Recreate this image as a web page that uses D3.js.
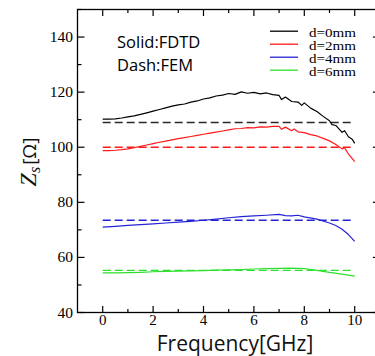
<!DOCTYPE html>
<html>
<head>
<meta charset="utf-8">
<script src="https://cdn.jsdelivr.net/npm/d3@7"></script>
<style>
  body { margin: 0; background: #fff; }
  svg { display: block; }
</style>
</head>
<body>
<div id="chart"></div>
<script>
// data (GHz, Ohm)
const freqBlack = [0, 0.25, 0.5, 0.75, 1, 1.25, 1.5, 1.75, 2, 2.25, 2.5, 2.75, 3, 3.25, 3.5, 3.75, 4, 4.25, 4.5, 4.75, 5, 5.25, 5.5, 5.75, 6, 6.25, 6.5, 6.75, 7, 7.1, 7.25, 7.5, 7.75, 7.9, 8, 8.25, 8.5, 8.75, 9, 9.1, 9.25, 9.5, 9.6, 9.75, 9.9, 10];
const zBlack = [110.2, 110.2, 110.3, 110.6, 111.0, 111.4, 111.9, 112.5, 113.1, 113.7, 114.3, 114.9, 115.4, 115.7, 116.4, 116.8, 117.5, 117.9, 118.6, 118.9, 119.5, 119.2, 120.1, 119.6, 119.9, 119.4, 119.7, 119.1, 118.8, 117.3, 118.2, 116.6, 116.4, 115.2, 116.1, 114.2, 113.0, 111.2, 109.6, 108.2, 107.9, 105.4, 106.0, 103.8, 102.9, 101.4];

const freqRed = [0, 0.25, 0.5, 0.75, 1, 1.25, 1.5, 1.75, 2, 2.25, 2.5, 2.75, 3, 3.25, 3.5, 3.75, 4, 4.25, 4.5, 4.75, 5, 5.25, 5.5, 5.75, 6, 6.25, 6.5, 6.75, 7, 7.1, 7.25, 7.5, 7.6, 7.75, 8, 8.25, 8.5, 8.75, 9, 9.25, 9.5, 9.6, 9.75, 10];
const zRed = [98.8, 98.8, 98.9, 99.1, 99.4, 99.8, 100.3, 100.8, 101.3, 101.8, 102.2, 102.7, 103.1, 103.5, 103.9, 104.3, 104.7, 105.1, 105.5, 105.9, 106.3, 106.7, 106.8, 107.1, 107.0, 107.4, 107.3, 107.6, 107.6, 106.5, 107.3, 106.0, 106.6, 105.6, 105.3, 104.6, 104.1, 103.2, 102.3, 101.0, 99.4, 99.8, 97.6, 94.8];

const freqBlue = [0, 0.5, 1, 1.5, 2, 2.5, 3, 3.5, 4, 4.5, 5, 5.5, 6, 6.5, 7, 7.25, 7.5, 7.75, 8, 8.5, 9, 9.25, 9.5, 9.75, 10];
const zBlue = [71.0, 71.3, 71.6, 71.9, 72.2, 72.5, 72.8, 73.1, 73.5, 73.9, 74.4, 74.8, 75.1, 75.3, 75.6, 75.2, 75.1, 75.3, 74.7, 73.9, 72.5, 71.6, 70.2, 68.3, 65.8];

const freqGreen = [0, 0.5, 1, 1.5, 2, 2.5, 3, 3.5, 4, 4.5, 5, 5.5, 6, 6.5, 7, 7.5, 8, 8.5, 9, 9.5, 10];
const zGreen = [54.4, 54.4, 54.5, 54.6, 54.8, 54.9, 55.0, 55.1, 55.2, 55.4, 55.5, 55.6, 55.8, 55.9, 56.0, 56.1, 55.9, 55.3, 54.6, 53.9, 53.2];

// FEM results are flat over the band
const femFreq = [0, 10];
const femValues = [109.0, 100.0, 73.5, 55.3];

const legendLabels = ["d=0mm", "d=2mm", "d=4mm", "d=6mm"];
const colors = ["#000000", "#ff1a1a", "#2424d4", "#2ee02e"];

const xTicks = [0, 2, 4, 6, 8, 10];
const yTicks = [40, 60, 80, 100, 120, 140];

const W = 375, H = 356;
const margin = {top: 9.5, left: 77.5};
const plotW = 302.4, plotH = 303;

const svg = d3.select("#chart").append("svg")
    .attr("width", W)
    .attr("height", H);

const x = d3.scaleLinear().domain([-1, 11]).range([margin.left, margin.left + plotW]);
const y = d3.scaleLinear().domain([40, 150]).range([margin.top + plotH, margin.top]);

const x0 = x.range()[0], x1 = x.range()[1];
const y0 = y.range()[0], y1 = y.range()[1];

// frame
svg.append("rect")
    .attr("x", x0).attr("y", y1)
    .attr("width", x1 - x0).attr("height", y0 - y1)
    .attr("fill", "none").attr("stroke", "#000").attr("stroke-width", 1.3);

// ticks, all pointing inside
const majorX = d3.range(0, 11, 2), minorX = d3.range(1, 10, 2);
const majorY = d3.range(40, 151, 20), minorY = d3.range(50, 151, 20);
const tk = svg.append("g").attr("stroke", "#000").attr("stroke-width", 1.2);

function xt(vals, len) {
    vals.forEach(v => {
        tk.append("line").attr("x1", x(v)).attr("x2", x(v)).attr("y1", y0).attr("y2", y0 - len);
        tk.append("line").attr("x1", x(v)).attr("x2", x(v)).attr("y1", y1).attr("y2", y1 + len);
    });
}
function yt(vals, len) {
    vals.forEach(v => {
        tk.append("line").attr("x1", x0).attr("x2", x0 + len).attr("y1", y(v)).attr("y2", y(v));
        tk.append("line").attr("x1", x1).attr("x2", x1 - len).attr("y1", y(v)).attr("y2", y(v));
    });
}
xt(majorX, 6.5); xt(minorX, 3.5);
yt(majorY, 7); yt(minorY, 4);

// tick labels
svg.append("g").selectAll("text")
    .data(xTicks)
    .join("text")
    .attr("x", d => x(d))
    .attr("y", y0 + 12.5)
    .attr("text-anchor", "middle")
    .attr("font-family", "Liberation Serif, Times New Roman, serif")
    .attr("font-size", 15)
    .text(d => d);

svg.append("g").selectAll("text")
    .data(yTicks)
    .join("text")
    .attr("x", x0 - 4.5)
    .attr("y", d => y(d) + 5)
    .attr("text-anchor", "end")
    .attr("font-family", "Liberation Serif, Times New Roman, serif")
    .attr("font-size", 15.5)
    .text(d => d);

// curves
const line = d3.line().x(d => x(d[0])).y(d => y(d[1]));
const fdtd = [
    [freqBlack, zBlack],
    [freqRed, zRed],
    [freqBlue, zBlue],
    [freqGreen, zGreen]
];

femValues.forEach((v, i) => {
    svg.append("path")
        .attr("d", line(femFreq.map(f => [f, v])))
        .attr("fill", "none")
        .attr("stroke", i === 0 ? "#2a2a2a" : colors[i])
        .attr("stroke-width", 1.4)
        .attr("stroke-dasharray", "8,4");
});

fdtd.forEach(([fs, zs], i) => {
    svg.append("path")
        .attr("d", line(fs.map((f, j) => [f, zs[j]])))
        .attr("fill", "none")
        .attr("stroke", colors[i])
        .attr("stroke-width", 1.2)
        .attr("stroke-linejoin", "round");
});

// annotations
svg.append("text")
    .attr("x", 117).attr("y", 48)
    .attr("font-family", "Open Sans, sans-serif")
    .attr("font-size", 16.5)
    .text("Solid:FDTD");
svg.append("text")
    .attr("x", 117).attr("y", 71)
    .attr("font-family", "Open Sans, sans-serif")
    .attr("font-size", 16.5)
    .text("Dash:FEM");

// legend
const leg = svg.append("g");
legendLabels.forEach((lab, i) => {
    const by = 36.7 + i * 13;
    leg.append("line")
        .attr("x1", 270).attr("x2", 298)
        .attr("y1", by - 5.5).attr("y2", by - 5.5)
        .attr("stroke", colors[i]).attr("stroke-width", 1.3);
    leg.append("text")
        .attr("x", 309).attr("y", by)
        .attr("font-family", "Liberation Serif, Times New Roman, serif")
        .attr("font-size", 12.5)
        .attr("textLength", 47)
        .attr("lengthAdjust", "spacingAndGlyphs")
        .text(lab);
});

// axis titles
svg.append("text")
    .attr("x", 235).attr("y", 350.5)
    .attr("text-anchor", "middle")
    .attr("font-family", "Open Sans, sans-serif")
    .attr("font-size", 21)
    .attr("fill", "#111")
    .text("Frequency[GHz]");

const yl = svg.append("text")
    .attr("transform", "translate(36,162) rotate(-90)")
    .attr("text-anchor", "middle")
    .attr("fill", "#111");
yl.append("tspan")
    .attr("font-family", "Liberation Serif, Times New Roman, serif")
    .attr("font-style", "italic")
    .attr("font-size", 24)
    .text("Z");
yl.append("tspan")
    .attr("font-family", "Liberation Serif, Times New Roman, serif")
    .attr("font-style", "italic")
    .attr("font-size", 16)
    .attr("dy", 4)
    .text("s");
yl.append("tspan")
    .attr("font-family", "Open Sans, sans-serif")
    .attr("font-size", 19)
    .attr("dy", -4)
    .attr("dx", 2)
    .text("[Ω]");
</script>
</body>
</html>
